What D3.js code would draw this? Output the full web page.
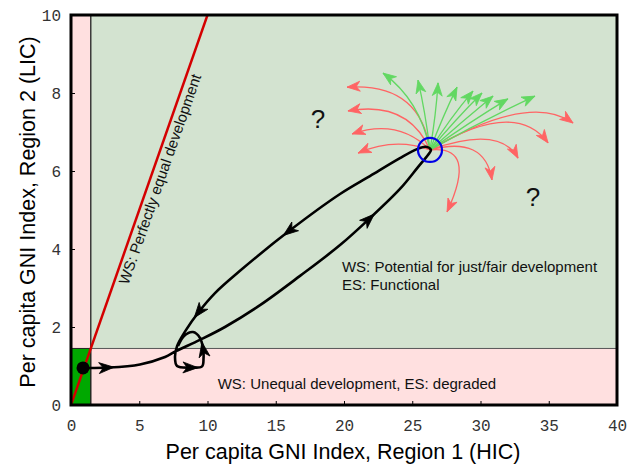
<!DOCTYPE html>
<html><head><meta charset="utf-8">
<script src="https://cdn.jsdelivr.net/npm/d3@7/dist/d3.min.js"></script>
<style>body{margin:0;background:#fff}svg{display:block}</style>
</head><body><svg id="c" width="640" height="464"></svg>
<script>
// ---- data ----
const xTicks = [0,5,10,15,20,25,30,35,40];
const yTicks = [0,2,4,6,8,10];
const xLabel = "Per capita GNI Index, Region 1 (HIC)";
const yLabel = "Per capita GNI Index, Region 2 (LIC)";
const boundX = 1.45, boundY = 1.45;           // edge of the "degraded" zones
const equalLine = [[0,0],[12,12]];              // y = x
const startPoint = [0.88, 0.95];
const trajectory = [
 [0.88,0.95],[2.71,0.96],[5.05,1.04],[6.89,1.23],[7.69,1.38],[9.45,1.67],[11.28,2.0],
 [13.85,2.56],[16.78,3.31],[19.71,4.10],[21.9,4.79],[24.1,5.54],[25.42,6.10],[26.15,6.41],
 [26.37,6.54],[26.0,6.62],[25.35,6.56],[24.1,6.33],[21.9,5.87],[19.71,5.41],[15.9,4.44],
 [12.38,3.44],[10.55,2.87],[9.3,2.36],[8.42,1.92],[7.77,1.51],[7.62,1.23],[7.77,1.0],
 [8.86,0.96],[9.6,0.99],[9.71,1.2],[9.67,1.46],[9.45,1.72],[8.94,1.87],[8.28,1.77],[7.84,1.51]
];
const trajArrowIdx = [1,10,20,23,28,31];
const hub = [26.3, 6.54];
const hubRadiusPx = 12;
// fan arrows: [tipX, tipY, ctrlX, ctrlY]
const redFan = [
 [20.22,8.15,25.57,8.28],[20.29,7.54,24.69,7.82],[20.59,6.95,23.96,7.36],[21.03,6.46,23.74,6.87],
 [36.78,7.23,33.63,8.03],[34.95,6.72,32.53,7.87],[32.75,6.33,31.43,7.18],[30.84,5.77,30.33,6.92],
 [27.55,4.95,29.82,6.67]
];
const greenFan = [
 [22.86,8.51,25.57,7.82],[25.42,8.33,25.93,7.56],[26.89,8.26,26.74,7.44],[28.28,8.15,27.25,7.41],
 [29.45,8.05,27.77,7.36],[30.11,8.0,28.13,7.31],[30.92,7.92,28.64,7.26],[32.01,7.85,29.23,7.26],
 [33.99,7.92,29.96,7.26]
];
const annotations = [
 {x:18.1, y:7.1, text:"?", size:26, anchor:"middle"},
 {x:33.85, y:5.09, text:"?", size:26, anchor:"middle"},
 {x:19.85, y:3.41, text:"WS: Potential for just/fair development", size:15, anchor:"start"},
 {x:19.85, y:2.94, text:"ES: Functional", size:15, anchor:"start"},
 {x:20.95, y:0.41, text:"WS: Unequal development, ES: degraded", size:15, anchor:"middle"}
];
const equalText = "WS: Perfectly equal development";
const equalTextAt = 5.87;

// ---- drawing ----
const svg = d3.select("#c");
const x = d3.scaleLinear().domain([0,40]).range([71,617]);
const y = d3.scaleLinear().domain([0,10]).range([405,15]);
const X0=x(0),X1=x(40),Y0=y(0),Y1=y(10);
const SANS = "Liberation Sans, Arial, sans-serif";

svg.append("clipPath").attr("id","pc").append("rect")
  .attr("x",X0).attr("y",Y1).attr("width",X1-X0).attr("height",Y0-Y1);

const bg = svg.append("g");
bg.append("rect").attr("x",X0).attr("y",Y1).attr("width",X1-X0).attr("height",Y0-Y1).attr("fill","#ffe0e0");
bg.append("rect").attr("x",x(boundX)).attr("y",Y1).attr("width",X1-x(boundX)).attr("height",y(boundY)-Y1)
  .attr("fill","#d3e3d0").attr("stroke","#555").attr("stroke-width",1);
bg.append("rect").attr("x",X0).attr("y",y(boundY)).attr("width",x(boundX)-X0).attr("height",Y0-y(boundY))
  .attr("fill","#00a800").attr("stroke","#222").attr("stroke-width",1);
bg.append("line").attr("x1",x(boundX)).attr("x2",x(boundX)).attr("y1",Y1).attr("y2",Y0).attr("stroke","#222").attr("stroke-width",1);

// red equality line
svg.append("path").attr("clip-path","url(#pc)")
  .attr("d",d3.line().x(d=>x(d[0])).y(d=>y(d[1]))(equalLine))
  .attr("stroke","#d40000").attr("stroke-width",2.5).attr("fill","none");
{
  const px=x(equalTextAt), py=y(equalTextAt);
  const dx=x(10)-x(0), dy=y(10)-y(0), L=Math.hypot(dx,dy);
  const ang=Math.atan2(dy,dx)*180/Math.PI;
  const nx=-dy/L, ny=dx/L; // perpendicular (to lower-right)
  const off=14.5;
  svg.append("text").attr("transform",`translate(${px+nx*off},${py+ny*off}) rotate(${ang})`)
    .attr("text-anchor","middle").attr("font-family",SANS)
    .attr("font-size",15).attr("fill","#111").text(equalText);
}

function arrowHead(g, tx, ty, angle, L, W, color){
  g.append("path").attr("d",`M0,0 L${-L},${-W/2} L${-L*0.72},0 L${-L},${W/2} Z`)
   .attr("transform",`translate(${tx},${ty}) rotate(${angle*180/Math.PI})`)
   .attr("fill",color).attr("stroke",color).attr("stroke-width",0.8).attr("stroke-linejoin","miter");
}

function fan(list,color){
  const g=svg.append("g");
  const ox=x(hub[0]), oy=y(hub[1]);
  list.forEach(a=>{
    const tx=x(a[0]),ty=y(a[1]),cx=x(a[2]),cy=y(a[3]);
    const p=d3.path(); p.moveTo(ox,oy); p.quadraticCurveTo(cx,cy,tx,ty);
    g.append("path").attr("d",p.toString()).attr("fill","none").attr("stroke",color).attr("stroke-width",1.3);
    arrowHead(g,tx,ty,Math.atan2(ty-cy,tx-cx),13,10,color);
  });
}
fan(redFan,"#ff6464");
fan(greenFan,"#62d862");

// trajectory
const tg = svg.append("g");
tg.append("path").attr("d",d3.line().x(d=>x(d[0])).y(d=>y(d[1])).curve(d3.curveCatmullRom.alpha(0.5))(trajectory))
  .attr("fill","none").attr("stroke","#000").attr("stroke-width",2.6).attr("stroke-linejoin","round");
trajArrowIdx.forEach(i=>{
  const a=trajectory[i-1], b=trajectory[i+1], c=trajectory[i];
  const ang=Math.atan2(y(b[1])-y(a[1]), x(b[0])-x(a[0]));
  arrowHead(tg, x(c[0])+Math.cos(ang)*6, y(c[1])+Math.sin(ang)*6, ang, 15, 11, "#000");
});
tg.append("circle").attr("cx",x(startPoint[0])).attr("cy",y(startPoint[1])).attr("r",6.5).attr("fill","#000");

svg.append("circle").attr("cx",x(hub[0])).attr("cy",y(hub[1])).attr("r",hubRadiusPx)
  .attr("fill","none").attr("stroke","#0000e6").attr("stroke-width",2.2);

// annotations
annotations.forEach(a=>{
  svg.append("text").attr("x",x(a.x)).attr("y",y(a.y)).attr("text-anchor",a.anchor)
   .attr("font-family",SANS).attr("font-size",a.size).attr("fill","#111").text(a.text);
});

// frame
svg.append("rect").attr("x",X0).attr("y",Y1).attr("width",X1-X0).attr("height",Y0-Y1)
  .attr("fill","none").attr("stroke","#000").attr("stroke-width",3);

// axes (ticks inward, labels in mono)
const xa = svg.append("g").attr("transform",`translate(0,${Y0})`)
  .call(d3.axisBottom(x).tickValues(xTicks).tickSize(-4).tickPadding(12));
const ya = svg.append("g").attr("transform",`translate(${X0},0)`)
  .call(d3.axisLeft(y).tickValues(yTicks).tickSize(-4).tickPadding(10));
[xa,ya].forEach(a=>{
  a.select(".domain").remove();
  a.selectAll("text").attr("font-family","Liberation Mono, DejaVu Sans Mono, monospace").attr("font-size",16).attr("fill","#333");
  a.selectAll("line").attr("stroke","#000");
});
xa.selectAll("text").attr("dy","0.9em");
ya.selectAll("text").attr("dy","0.36em");

svg.append("text").attr("x",(X0+X1)/2-1).attr("y",459).attr("text-anchor","middle")
  .attr("font-family",SANS).attr("font-size",21.5).attr("fill","#000").text(xLabel);
svg.append("text").attr("transform",`translate(35,${(Y0+Y1)/2+2}) rotate(-90)`).attr("text-anchor","middle")
  .attr("font-family",SANS).attr("font-size",21.5).attr("fill","#000").text(yLabel);
</script></body></html>
